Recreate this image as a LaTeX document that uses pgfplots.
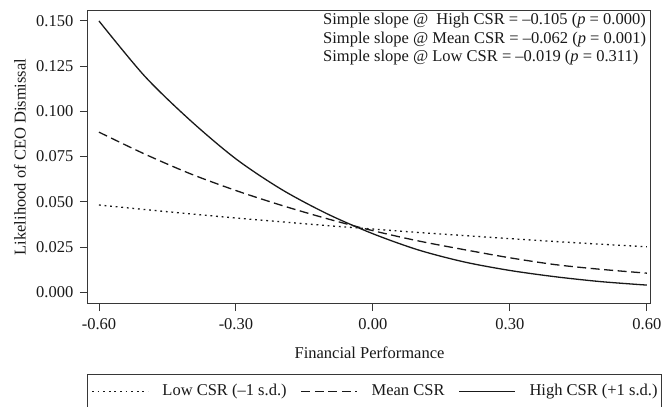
\documentclass[border=0pt]{standalone}
\usepackage{fontspec}
\setmainfont{Liberation Serif}
\usepackage{pgfplots}
\pgfplotsset{compat=1.18}
\definecolor{frame}{RGB}{55,55,55}
\definecolor{ink}{RGB}{25,25,25}

% predicted likelihood
\pgfplotstableread{
x      low     mean    high
-0.60  0.0482  0.0885  0.1500
-0.50  0.0457  0.0764  0.1195
-0.40  0.0433  0.0655  0.0950
-0.30  0.0410  0.0562  0.0737
-0.20  0.0389  0.0480  0.0568
-0.10  0.0368  0.0406  0.0433
 0.00  0.0349  0.0340  0.0323
 0.10  0.0330  0.0283  0.0233
 0.20  0.0313  0.0235  0.0167
 0.30  0.0296  0.0190  0.0120
 0.40  0.0280  0.0152  0.0085
 0.50  0.0265  0.0126  0.0058
 0.60  0.0251  0.0105  0.0039
}\csrdata

\begin{document}
\fontsize{16.5}{19}\selectfont
\begin{tikzpicture}[x=1pt,y=1pt]
\useasboundingbox (-88,-104) rectangle (574,303);
\begin{axis}[at={(0,0)}, anchor=south west, scale only axis,
    width=563pt, height=292pt,
    xmin=-0.624, xmax=0.609, ymin=-0.006, ymax=0.1555,
    xtick={-0.6,-0.3,0,0.3,0.6},
    ytick={0,0.025,0.05,0.075,0.1,0.125,0.15},
    tick pos=left, tick align=outside, major tick length=8pt,
    axis line style={frame, line width=1pt},
    tick style={frame, line width=0.9pt},
    xticklabel style={/pgf/number format/fixed, /pgf/number format/fixed zerofill,
      /pgf/number format/precision=2, /pgf/number format/assume math mode=true, yshift=-2pt},
    yticklabel style={/pgf/number format/fixed, /pgf/number format/fixed zerofill,
      /pgf/number format/precision=3, /pgf/number format/assume math mode=true, xshift=-1pt},
    ticklabel style={font=\fontsize{16.5}{19}\selectfont, text=ink},
    label style={font=\fontsize{16.5}{19}\selectfont, text=ink},
    xlabel={Financial Performance},
    xlabel style={at={(axis description cs:0.5,-0.171)}, anchor=center},
    ylabel={Likelihood of CEO Dismissal},
    ylabel style={at={(axis description cs:-0.1208,0.5)}, anchor=center},
    legend columns=3,
    legend image code/.code={\draw[#1] (0pt,0pt) -- (56pt,0pt);},
    legend style={at={(axis description cs:-0.0018,-0.2432)}, anchor=north west,
      draw=frame, line width=0.9pt, font=\fontsize{16.5}{19}\selectfont, text=ink,
      inner xsep=4pt, inner ysep=10pt, nodes={inner sep=0pt},
      /tikz/every odd column/.append style={column sep=13.7pt},
      /tikz/every even column/.append style={column sep=14pt}},
  ]
  \addplot[ink, line width=1.3pt, dash pattern=on 1.8pt off 3.8pt, smooth] table[x=x, y=low] {\csrdata};
  \addlegendentry{Low CSR (–1 s.d.)}
  \addplot[ink, line width=1.3pt, dash pattern=on 9pt off 4.5pt, smooth] table[x=x, y=mean] {\csrdata};
  \addlegendentry{Mean CSR}
  \addplot[ink, line width=1.3pt, smooth] table[x=x, y=high] {\csrdata};
  \addlegendentry{High CSR (+1 s.d.)}
  \node[anchor=west, inner sep=0pt, text=ink] at (axis description cs:0.4174,0.9658)
    {Simple slope @\ \ High CSR = –0.105 (\textit{p} = 0.000)};
  \node[anchor=west, inner sep=0pt, text=ink] at (axis description cs:0.4174,0.9024)
    {Simple slope @ Mean CSR = –0.062 (\textit{p} = 0.001)};
  \node[anchor=west, inner sep=0pt, text=ink] at (axis description cs:0.4174,0.8390)
    {Simple slope @ Low CSR = –0.019 (\textit{p} = 0.311)};
\end{axis}
\end{tikzpicture}
\end{document}
